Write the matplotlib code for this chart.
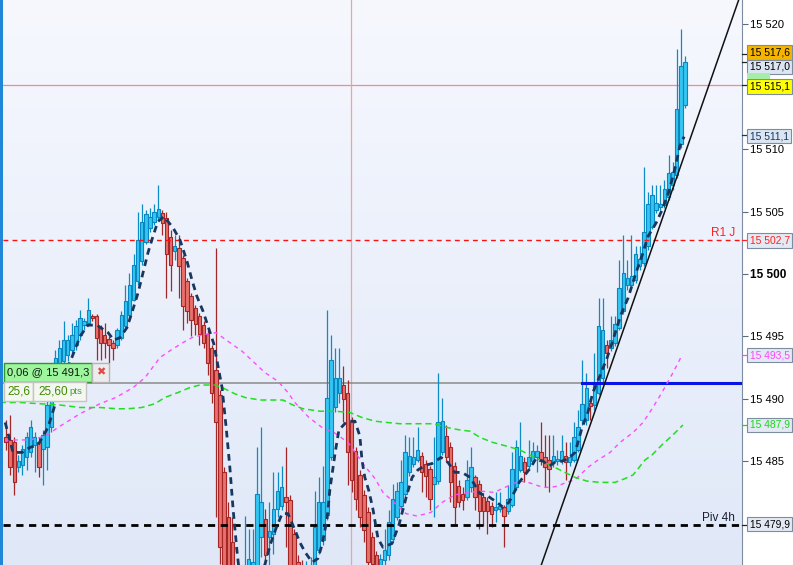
import matplotlib
matplotlib.use("Agg")
import numpy as np
import matplotlib.pyplot as plt
from matplotlib.patches import Rectangle
from matplotlib.colors import LinearSegmentedColormap
from matplotlib.transforms import blended_transform_factory

plt.rcParams['font.family'] = ['Liberation Sans', 'DejaVu Sans']

# candles (one per bar, left to right)
opens = [15486.9, 15486.7, 15486.5, 15484.5, 15484.7, 15485.3, 15485.7, 15486.3, 15486.5, 15486.0,
         15486.1, 15487.7, 15490.7, 15492.1, 15493.0, 15493.5, 15493.9, 15494.3, 15495.1, 15495.9,
         15496.1, 15496.6, 15496.6, 15495.7, 15495.1, 15494.8, 15494.5, 15494.3, 15494.9, 15495.8,
         15496.7, 15497.9, 15499.4, 15501.0, 15502.6, 15503.7, 15504.2, 15504.6, 15504.9, 15504.5,
         15503.0, 15501.8, 15502.1, 15501.3, 15499.4, 15498.2, 15497.3, 15496.6, 15495.9, 15495.2,
         15494.1, 15492.3, 15490.3, 15484.1, 15480.5, 15478.5, 15475.8, 15475.0, 15475.6, 15476.2,
         15476.4, 15476.5, 15478.9, 15480.4, 15478.9, 15479.2, 15481.2, 15481.4, 15482.1, 15481.9,
         15479.2, 15476.9, 15476.0, 15475.2, 15475.8, 15476.3, 15477.9, 15478.7, 15480.7, 15485.3,
         15489.3, 15490.5, 15491.1, 15490.5, 15488.1, 15485.8, 15483.9, 15482.3, 15480.9, 15478.9,
         15477.5, 15476.7, 15477.1, 15477.5, 15478.8, 15480.5, 15481.4, 15482.4, 15484.1, 15484.8,
         15485.1, 15485.4, 15484.8, 15484.4, 15483.2, 15483.4, 15485.7, 15487.0, 15486.1, 15484.6,
         15483.0, 15482.4, 15482.1, 15482.9, 15483.7, 15483.2, 15482.1, 15481.8, 15481.4, 15481.1,
         15481.2, 15481.3, 15481.0, 15481.5, 15482.9, 15484.3, 15484.9, 15484.6, 15485.0, 15485.3,
         15485.7, 15485.3, 15485.1, 15484.9, 15485.0, 15485.0, 15485.4, 15484.9, 15485.1, 15485.9,
         15488.3, 15488.3, 15489.7, 15489.5, 15490.5, 15491.7, 15494.3, 15494.1, 15494.5, 15495.7,
         15497.0, 15499.1, 15499.1, 15499.5, 15500.6, 15500.9, 15502.2, 15503.8, 15505.1, 15505.4,
         15505.5, 15506.2, 15507.1, 15507.9, 15510.4, 15513.5]
highs = [15488.3, 15488.7, 15486.9, 15485.5, 15486.3, 15487.3, 15488.3, 15487.3, 15486.9, 15487.5,
         15490.1, 15492.5, 15493.9, 15494.7, 15496.2, 15495.1, 15496.1, 15496.3, 15497.1, 15496.5,
         15498.1, 15496.8, 15496.8, 15495.9, 15496.1, 15495.0, 15494.7, 15495.7, 15497.0, 15499.1,
         15500.1, 15501.6, 15505.0, 15505.6, 15505.1, 15505.3, 15505.6, 15507.1, 15505.1, 15505.0,
         15503.5, 15503.1, 15503.1, 15501.5, 15499.7, 15498.5, 15497.5, 15496.9, 15496.2, 15495.5,
         15494.3, 15502.1, 15490.7, 15484.5, 15481.7, 15480.5, 15476.4, 15476.2, 15480.6, 15479.6,
         15479.6, 15486.1, 15487.7, 15481.2, 15481.7, 15484.1, 15484.1, 15484.6, 15486.1, 15482.3,
         15479.6, 15477.5, 15477.1, 15477.0, 15477.3, 15482.6, 15483.7, 15484.6, 15497.1, 15495.1,
         15494.1, 15494.1, 15492.6, 15491.5, 15488.5, 15486.1, 15484.3, 15482.7, 15481.3, 15479.3,
         15477.8, 15477.6, 15479.6, 15481.1, 15483.2, 15483.3, 15485.1, 15487.1, 15486.9, 15486.9,
         15487.7, 15485.7, 15485.1, 15484.6, 15486.9, 15492.1, 15490.1, 15487.9, 15486.5, 15484.9,
         15483.5, 15482.9, 15485.1, 15486.1, 15483.9, 15483.5, 15482.4, 15482.1, 15481.7, 15482.5,
         15482.5, 15481.5, 15483.1, 15485.7, 15486.7, 15488.1, 15485.3, 15486.7, 15486.5, 15486.3,
         15488.1, 15487.1, 15487.1, 15487.1, 15485.9, 15487.1, 15486.5, 15486.5, 15488.1, 15489.1,
         15493.1, 15492.1, 15490.1, 15493.7, 15498.1, 15498.1, 15494.7, 15496.6, 15496.6, 15501.1,
         15503.1, 15501.1, 15503.1, 15502.2, 15502.2, 15508.6, 15506.6, 15507.1, 15507.1, 15507.1,
         15507.5, 15509.5, 15509.0, 15518.0, 15519.6, 15517.5]
lows = [15485.9, 15483.9, 15482.3, 15484.1, 15483.9, 15484.3, 15485.3, 15484.1, 15483.7, 15483.1,
        15484.3, 15487.3, 15490.3, 15491.5, 15492.5, 15493.0, 15493.5, 15493.9, 15494.7, 15495.5,
        15495.8, 15496.2, 15493.1, 15493.1, 15493.3, 15492.9, 15493.1, 15494.1, 15494.7, 15495.5,
        15496.5, 15497.8, 15499.1, 15500.7, 15502.4, 15503.4, 15503.9, 15504.3, 15503.1, 15498.1,
        15498.6, 15501.1, 15498.1, 15495.5, 15496.1, 15495.0, 15495.1, 15494.3, 15494.1, 15491.9,
        15489.7, 15480.5, 15476.8, 15475.3, 15474.8, 15474.6, 15474.5, 15474.7, 15475.0, 15475.8,
        15476.0, 15476.1, 15477.3, 15476.2, 15476.5, 15477.6, 15480.5, 15481.1, 15478.1, 15475.6,
        15475.2, 15474.8, 15474.6, 15474.8, 15475.0, 15475.9, 15477.6, 15478.3, 15480.3, 15485.1,
        15488.9, 15489.7, 15488.1, 15483.1, 15482.5, 15481.1, 15479.7, 15478.5, 15476.3, 15476.0,
        15475.8, 15476.0, 15476.7, 15477.1, 15478.5, 15480.3, 15481.1, 15482.1, 15483.8, 15484.5,
        15484.9, 15482.5, 15482.1, 15481.1, 15480.5, 15483.2, 15485.5, 15484.9, 15481.7, 15480.0,
        15481.3, 15481.1, 15481.9, 15482.5, 15481.1, 15479.6, 15479.8, 15479.2, 15479.7, 15480.1,
        15480.9, 15478.1, 15480.8, 15481.3, 15482.7, 15484.1, 15483.3, 15484.3, 15484.8, 15484.1,
        15484.7, 15482.9, 15482.5, 15484.5, 15484.7, 15484.8, 15483.5, 15484.6, 15484.9, 15485.7,
        15487.9, 15487.9, 15488.3, 15489.1, 15490.3, 15491.3, 15492.5, 15493.8, 15494.2, 15495.5,
        15496.8, 15498.7, 15498.9, 15499.3, 15500.3, 15500.6, 15501.9, 15503.6, 15504.9, 15505.1,
        15505.3, 15505.9, 15506.7, 15507.7, 15510.1, 15513.3]
closes = [15486.5, 15484.5, 15483.3, 15485.0, 15486.0, 15486.9, 15487.7, 15486.9, 15484.5, 15487.1,
          15489.5, 15491.1, 15493.3, 15494.1, 15494.7, 15494.7, 15495.1, 15495.8, 15496.5, 15496.2,
          15497.1, 15496.5, 15494.9, 15494.5, 15494.5, 15494.3, 15494.1, 15495.5, 15496.7, 15497.8,
          15499.1, 15500.7, 15502.7, 15504.2, 15504.8, 15504.6, 15505.0, 15505.2, 15504.1, 15501.6,
          15500.7, 15502.2, 15500.6, 15497.4, 15497.0, 15496.3, 15496.0, 15495.2, 15494.5, 15492.9,
          15490.5, 15488.1, 15478.1, 15476.0, 15475.6, 15475.5, 15475.0, 15475.8, 15476.4, 15477.2,
          15476.9, 15482.4, 15481.7, 15477.5, 15479.4, 15481.2, 15482.6, 15482.9, 15481.7, 15476.3,
          15475.9, 15475.5, 15475.3, 15476.0, 15476.4, 15479.7, 15481.7, 15481.7, 15490.1, 15493.1,
          15491.7, 15491.7, 15490.0, 15485.7, 15483.5, 15482.0, 15480.5, 15479.5, 15476.9, 15476.8,
          15476.5, 15477.2, 15477.9, 15480.1, 15482.0, 15482.6, 15483.3, 15485.7, 15485.4, 15485.3,
          15485.9, 15484.1, 15483.8, 15482.0, 15483.7, 15488.1, 15488.2, 15485.3, 15483.3, 15481.3,
          15481.7, 15481.9, 15483.5, 15484.5, 15482.1, 15481.0, 15481.0, 15481.0, 15480.8, 15481.3,
          15481.4, 15480.6, 15482.0, 15484.4, 15486.1, 15485.4, 15484.1, 15485.3, 15485.8, 15485.8,
          15485.0, 15484.5, 15484.4, 15485.4, 15485.2, 15485.8, 15484.9, 15485.3, 15486.9, 15487.7,
          15489.6, 15490.9, 15489.4, 15491.3, 15495.8, 15495.5, 15493.7, 15494.7, 15496.0, 15498.9,
          15500.1, 15499.7, 15499.8, 15501.6, 15501.2, 15503.4, 15505.6, 15506.3, 15505.7, 15505.6,
          15506.8, 15508.1, 15508.2, 15513.2, 15516.7, 15517.0]

# moving averages, sampled at bar positions
fast_idx = [-0.2, 1.7, 3.9, 5.8, 7.8, 10.2, 11.9, 13.6, 16.0, 18.0, 19.9, 22.1, 24.8, 26.2, 27.7, 29.4,
            30.6, 32.1, 33.3, 34.5, 35.7, 36.9, 38.4, 40.6, 42.3, 44.0, 45.2, 46.4, 47.9, 49.1, 50.5,
            52.5, 53.5, 54.4, 55.2, 56.1, 56.9, 59.8, 62.9, 64.2, 65.6, 67.1, 68.5, 70.2, 71.4, 72.7,
            74.4, 75.8, 76.8, 78.0, 78.7, 80.0, 80.9, 82.9, 84.8, 86.0, 86.5, 87.2, 88.2, 89.2, 90.4,
            91.6, 93.8, 95.5, 97.4, 98.7, 100.1, 102.1, 103.5, 105.7, 107.4, 109.1, 110.8, 112.8,
            115.2, 117.1, 119.3, 120.8, 122.2, 123.5, 124.7, 127.3, 128.8, 130.5, 132.0, 133.4, 135.1,
            136.6, 138.3, 140.0, 141.4, 142.6, 144.4, 146.1, 147.5, 149.4, 151.2, 152.9, 154.6, 156.0,
            158.0, 159.4, 161.1, 162.6, 163.8, 164.8]
fast_ma = [15488.1, 15485.7, 15485.7, 15486.1, 15486.3, 15487.7, 15489.5, 15491.5, 15493.3, 15495.0,
           15495.9, 15495.9, 15495.3, 15494.7, 15494.9, 15495.7, 15496.9, 15498.5, 15500.1, 15501.7,
           15503.0, 15504.2, 15504.6, 15503.7, 15502.7, 15501.0, 15499.5, 15498.2, 15497.0, 15495.8,
           15494.4, 15490.9, 15487.7, 15484.5, 15481.1, 15477.9, 15475.5, 15474.7, 15476.7, 15478.3,
           15479.6, 15480.8, 15480.8, 15479.5, 15478.5, 15477.7, 15476.9, 15477.2, 15478.3, 15480.3,
           15482.7, 15485.7, 15487.5, 15488.2, 15488.2, 15487.0, 15485.1, 15483.7, 15482.6, 15481.1,
           15478.8, 15478.1, 15478.4, 15479.9, 15482.3, 15483.7, 15484.3, 15484.7, 15484.8, 15485.3,
           15484.9, 15484.1, 15484.1, 15483.7, 15482.4, 15482.2, 15481.7, 15481.3, 15481.7, 15482.5,
           15483.3, 15484.4, 15485.2, 15485.0, 15484.6, 15484.9, 15485.0, 15485.2, 15485.7, 15487.7,
           15488.9, 15490.5, 15491.9, 15493.3, 15494.7, 15496.7, 15498.1, 15499.9, 15501.5, 15503.0,
           15504.1, 15505.1, 15506.6, 15508.5, 15510.3, 15511.0]

mid_idx = [-0.2, 5.8, 9.5, 13.1, 18.0, 22.8, 26.7, 30.9, 33.8, 37.4, 40.1, 43.0, 45.2, 47.6, 51.0, 54.4,
           57.4, 60.0, 62.9, 66.1, 68.5, 70.2, 73.6, 76.8, 79.7, 83.1, 85.3, 87.2, 89.7, 91.6, 94.3,
           97.2, 99.9, 103.3, 106.0, 109.1, 112.5, 115.4, 118.6, 121.3, 123.2, 124.9, 126.9, 130.5,
           132.2, 134.1, 136.1, 138.3, 141.4, 143.9, 146.8, 149.2, 152.4, 154.8, 157.2, 159.4, 162.1,
           164.3]
mid_ma = [15486.7, 15486.7, 15487.0, 15487.8, 15488.8, 15489.6, 15490.1, 15490.9, 15491.7, 15493.3,
          15493.9, 15494.5, 15494.9, 15495.1, 15495.3, 15494.5, 15493.8, 15493.0, 15492.1, 15491.4,
          15490.5, 15489.7, 15488.5, 15487.7, 15487.3, 15486.5, 15485.5, 15484.6, 15483.6, 15482.5,
          15481.7, 15480.8, 15480.6, 15480.9, 15481.7, 15482.3, 15482.5, 15482.6, 15482.5, 15482.9,
          15483.2, 15483.4, 15483.3, 15482.9, 15482.9, 15483.0, 15483.3, 15483.5, 15484.5, 15485.1,
          15485.7, 15486.5, 15487.3, 15488.1, 15489.3, 15490.5, 15492.1, 15493.5]

slow_idx = [-1.5, 3.4, 8.3, 13.1, 18.0, 22.8, 27.0, 29.6, 33.0, 36.2, 38.6, 41.8, 44.7, 47.1, 50.8, 52.5,
            55.6, 58.1, 61.7, 67.3, 69.7, 72.2, 76.3, 80.0, 83.6, 86.5, 89.7, 92.6, 95.7, 103.8, 107.2,
            110.3, 112.8, 115.2, 118.3, 121.7, 124.9, 127.8, 131.0, 133.4, 135.8, 138.3, 141.2, 144.4,
            148.0, 150.4, 152.4, 155.3, 157.0, 159.4, 161.4, 163.3, 164.5]
slow_ma = [15489.7, 15489.7, 15489.6, 15489.5, 15489.3, 15489.3, 15489.2, 15489.2, 15489.3, 15489.6,
           15490.1, 15490.5, 15490.9, 15491.1, 15491.1, 15490.9, 15490.4, 15490.1, 15489.9, 15489.9,
           15489.5, 15489.2, 15489.0, 15489.0, 15488.9, 15488.5, 15488.2, 15488.1, 15488.0, 15488.0,
           15487.7, 15487.5, 15487.4, 15486.9, 15486.5, 15486.2, 15485.9, 15485.4, 15484.9, 15484.5,
           15484.1, 15483.7, 15483.4, 15483.3, 15483.3, 15483.6, 15483.9, 15485.1, 15485.5, 15486.3,
           15486.9, 15487.5, 15487.9]

trend_idx = [130.1, 178.1]
trend_px = [15476.7, 15522.0]

r1_level = 15502.7
pivot_level = 15479.9
order_level = 15491.3
order_start = 140
alert_level = 15515.1
cursor_idx = 83.8

yticks = [15485, 15490, 15495, 15500, 15505, 15510, 15520]
ytick_labels = ["15 485", "15 490", "15 495", "15 500", "15 505", "15 510", "15 520"]

W, H = 793, 565
fig = plt.figure(figsize=(W / 100, H / 100), dpi=100, facecolor='white')
left_px, right_px = 3, 742
ax = fig.add_axes([left_px / W, 0, (right_px - left_px) / W, 1])
x0, x1 = (left_px - 6) / 4.115, (right_px - 6) / 4.115
y0, y1 = 15476.68, 15521.95
ax.set_xlim(x0, x1)
ax.set_ylim(y0, y1)

bg = LinearSegmentedColormap.from_list('bg', ['#f6f8fe', '#e0e8f8'])
ax.imshow(np.linspace(0, 1, 256).reshape(-1, 1), extent=[x0, x1, y0, y1], aspect='auto',
          cmap=bg, origin='upper', zorder=0)

# fixed lines
ax.axhline(alert_level, color='#f48a8a', lw=0.9, zorder=1)
ax.axvline(cursor_idx, color='#f4a0a0', lw=0.9, zorder=1)
ax.plot([x0, order_start], [order_level, order_level], color='#8a8a8a', lw=1.1, zorder=2)
ax.plot([order_start, x1], [order_level, order_level], color='#0a14e6', lw=2.2, zorder=6)

# candles
o = np.array(opens); c = np.array(closes); h = np.array(highs); l = np.array(lows)
xs = np.arange(len(o))
up = c >= o
dn = ~up
ax.vlines(xs[up], l[up], h[up], color='#0c8cc4', lw=0.9, zorder=3)
ax.vlines(xs[dn], l[dn], h[dn], color='#a52626', lw=0.9, zorder=3)
ax.bar(xs[up], c[up] - o[up], bottom=o[up], width=0.82, color='#34c6f2', edgecolor='#0a86c0',
       lw=0.8, zorder=4)
ax.bar(xs[dn], c[dn] - o[dn], bottom=o[dn], width=0.82, color='#e8716c', edgecolor='#a52626',
       lw=0.8, zorder=4)

ax.axhline(r1_level, color='#ff1010', lw=1.0, ls=(0, (3.5, 3)), zorder=5)
ax.axhline(pivot_level, color='#000000', lw=2.0, ls=(0, (2.6, 2)), zorder=5)

ax.plot(mid_idx, mid_ma, color='#ff4cff', lw=1.0, ls=(0, (3, 3)), zorder=6)
ax.plot(slow_idx, slow_ma, color='#1ee01e', lw=1.1, ls=(0, (4, 2.5)), zorder=6)
ax.plot(fast_idx, fast_ma, color='#17375f', lw=2.0, ls=(0, (2.4, 1.8)), zorder=7)
ax.plot(trend_idx, trend_px, color='#111111', lw=1.1, zorder=7)

ax.text(0.9905, 15503.3, "R1 J", transform=blended_transform_factory(ax.transAxes, ax.transData),
        ha='right', va='center', fontsize=8.5, color='#ff2020', zorder=8)
ax.text(0.9905, 15480.45, "Piv 4h", transform=blended_transform_factory(ax.transAxes, ax.transData),
        ha='right', va='center', fontsize=8.5, color='#1a2030', zorder=8)

# right price axis
for s in ['top', 'left', 'bottom']:
    ax.spines[s].set_visible(False)
ax.spines['right'].set_color('#7d8ca0')
ax.set_xticks([])
ax.yaxis.tick_right()
ax.set_yticks(yticks)
ax.set_yticklabels(ytick_labels)
ax.tick_params(axis='y', direction='out', length=4, width=0.8, colors='#5a6a80', pad=1.5,
               labelsize=8, labelcolor='#000000')
for lbl in ax.get_yticklabels():
    if lbl.get_text() == "15 500":
        lbl.set_fontweight('bold')
        lbl.set_fontsize(8.5)

trans = blended_transform_factory(ax.transAxes, ax.transData)
bx = (747 - left_px) / (right_px - left_px)
boxes = [
    (15517.6, 15517.75, "15 517,6", '#f4b400', '#000000'),
    (15517.0, 15516.6, "15 517,0", '#dce5f2', '#000000'),
    (15515.1, 15515.0, "15 515,1", '#ffff00', '#000000'),
    (15511.1, 15511.05, "15 511,1", '#dce5f2', '#17375f'),
    (15502.7, 15502.7, "15 502,7", '#e4eaf4', '#ff2020'),
    (15493.5, 15493.5, "15 493,5", '#e4eaf4', '#ff44ff'),
    (15487.9, 15487.9, "15 487,9", '#e4eaf4', '#18d818'),
    (15479.9, 15479.95, "15 479,9", '#e4eaf4', '#000000'),
]
tick_cols = ['#222222', '#222222', '#222222', '#17375f', '#ff2020', '#ff44ff', '#18d818', '#222222']
fig.add_artist(Rectangle((747 / W, 1 - 79 / H), 23 / W, 6 / H, transform=fig.transFigure,
                         fc='#a6eea6', ec='none', zorder=9))
for (val, ypos, txt, fc, tc), tcol in zip(boxes, tick_cols):
    ax.plot([1.0, bx], [val, val], transform=trans, color=tcol, lw=0.9, clip_on=False, zorder=9)
    ax.text(bx + 0.0035, ypos, txt, transform=trans, ha='left', va='center', fontsize=7.4, color=tc,
            zorder=10, clip_on=False,
            bbox=dict(boxstyle='square,pad=0.22', fc=fc, ec='#7d8ca0', lw=0.8))

# left blue strip
fig.add_artist(Rectangle((0, 0), 3 / W, 1, transform=fig.transFigure, fc='#1f86d8', ec='none', zorder=12))

# order box
def fbox(xa, ya, xb, yb, fc, ec):
    fig.add_artist(Rectangle((xa / W, 1 - yb / H), (xb - xa) / W, (yb - ya) / H,
                             transform=fig.transFigure, fc=fc, ec=ec, lw=1, zorder=20))

def ftext(xp, yp, s, **kw):
    fig.text(xp / W, 1 - yp / H, s, zorder=21, **kw)

fbox(4, 363, 92, 382, '#9ef59e', '#2a9a2a')
fbox(92, 363, 109, 382, '#ececec', '#b4b4b4')
fbox(4, 382, 33, 401, '#f3f7ef', '#c4c4c4')
fbox(33, 382, 86, 401, '#f3f7ef', '#c4c4c4')
ftext(48, 372.5, "0,06 @ 15 491,3", ha='center', va='center', fontsize=8, color='#0c1a0c')
ftext(100.5, 372.5, "\u2716", ha='center', va='center', fontsize=8, color='#e04848', family='DejaVu Sans')
ftext(18.5, 391.5, "25,6", ha='center', va='center', fontsize=8.5, color='#3f8c00')
ftext(38, 391.5, "25,60", ha='left', va='center', fontsize=8.5, color='#3f8c00')
ftext(69, 392, "pts", ha='left', va='center', fontsize=6.8, color='#3f9a3f')

fig.savefig("out.png", dpi=100, facecolor='white')
